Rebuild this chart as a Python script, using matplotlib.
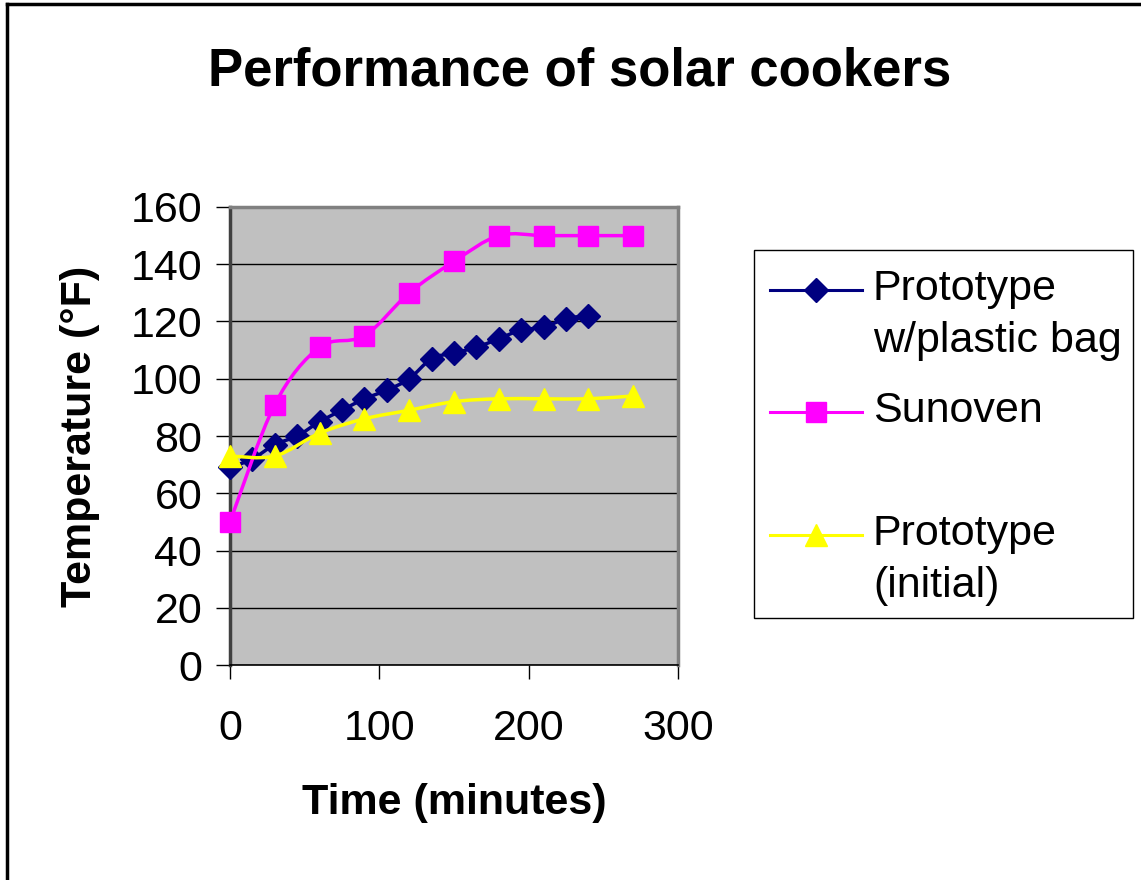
import numpy as np
import matplotlib.pyplot as plt
from matplotlib.path import Path
from matplotlib.patches import PathPatch, Rectangle
from matplotlib.lines import Line2D

plt.rcParams["font.family"] = ["Liberation Sans", "DejaVu Sans"]

# data
time_bag = [0, 15, 30, 45, 60, 75, 90, 105, 120, 135, 150, 165, 180, 195, 210, 225, 240]
temp_bag = [69, 72, 77, 80, 85, 89, 93, 96, 100, 107, 109, 111, 114, 117, 118, 121, 122]

time_sun = [0, 30, 60, 90, 120, 150, 180, 210, 240, 270]
temp_sun = [50, 91, 111, 115, 130, 141, 150, 150, 150, 150]

time_init = [0, 30, 60, 90, 120, 150, 180, 210, 240, 270]
temp_init = [73, 73, 81, 86, 89, 92, 93, 93, 93, 94]

labels = ["Prototype\nw/plastic bag", "Sunoven", "Prototype\n(initial)"]
colors = ["#000080", "#FF00FF", "#FFFF00"]
markers = ["D", "s", "^"]
msizes = [12.5, 14, 16]


def smooth_path(x, y):
    # Excel style smoothed line: cubic bezier segments through the points
    pts = np.column_stack([x, y]).astype(float)
    verts = [pts[0]]
    codes = [Path.MOVETO]
    n = len(pts)
    for i in range(n - 1):
        p0 = pts[i - 1] if i > 0 else pts[i]
        p1 = pts[i]
        p2 = pts[i + 1]
        p3 = pts[i + 2] if i + 2 < n else pts[i + 1]
        c1 = p1 + (p2 - p0) / 6.0
        c2 = p2 - (p3 - p1) / 6.0
        verts += [c1, c2, p2]
        codes += [Path.CURVE4] * 3
    return Path(verts, codes)


fig = plt.figure(figsize=(11.41, 8.8), dpi=100)
ax = fig.add_axes([230 / 1141, 1 - 665 / 880, 448 / 1141, 458 / 880])
ax.set_facecolor("#C0C0C0")

series = [(time_bag, temp_bag), (time_sun, temp_sun), (time_init, temp_init)]
for i, (xs, ys) in enumerate(series):
    ax.add_patch(PathPatch(smooth_path(xs, ys), facecolor="none",
                           edgecolor=colors[i], lw=2.5, zorder=3 + i))
    ax.plot(xs, ys, linestyle="none", marker=markers[i], ms=msizes[i],
            color=colors[i], markeredgecolor=colors[i], zorder=3 + i,
            clip_on=False)

ax.set_xlim(0, 300)
ax.set_ylim(0, 160)
ax.set_xticks([0, 100, 200, 300])
ax.set_yticks(range(0, 161, 20))
ax.yaxis.grid(True, color="black", lw=1)
ax.set_axisbelow(True)
ax.tick_params(axis="both", labelsize=31, length=10, width=1, color="black")
ax.tick_params(axis="y", pad=10)
ax.tick_params(axis="x", pad=22)

for s in ["top", "right"]:
    ax.spines[s].set_color("#808080")
    ax.spines[s].set_linewidth(2.5)
ax.spines["left"].set_color("#404040")
ax.spines["left"].set_linewidth(2.5)
ax.spines["bottom"].set_color("black")
ax.spines["bottom"].set_linewidth(1.2)

ax.set_xlabel("Time (minutes)", fontsize=31, fontweight="bold")
ax.xaxis.label.set_va("center")
ax.xaxis.set_label_coords(0.5, -0.301)
ax.set_ylabel("Temperature (\u00b0F)", fontsize=31, fontweight="bold")
ax.yaxis.label.set_va("center")
ax.yaxis.set_label_coords(-0.335, 0.5)

fig.text(580 / 1141, 1 - 71 / 880, "Performance of solar cookers",
         fontsize=38, fontweight="bold", ha="center", va="center")

# legend box drawn by hand so the marker sits on the first text line
fig.add_artist(Rectangle((754 / 1141, 1 - 618 / 880), 379 / 1141, 368 / 880,
                         transform=fig.transFigure, facecolor="white",
                         edgecolor="black", lw=1))
handle_y = [290, 412, 535]
for i in range(3):
    yy = 1 - handle_y[i] / 880
    fig.add_artist(Line2D([770 / 1141, 862 / 1141], [yy, yy], color=colors[i],
                          lw=2.2, transform=fig.transFigure))
    fig.add_artist(Line2D([816 / 1141], [yy], marker=markers[i], ms=msizes[i],
                          color=colors[i], transform=fig.transFigure))
    fig.text(873 / 1141, 1 - (handle_y[i] - 21) / 880, labels[i], fontsize=31,
             ha="left", va="top", linespacing=1.38)

# outer frame (only left and top edges are visible)
fig.add_artist(Line2D([7 / 1141, 7 / 1141], [0, 1 - 4 / 880], color="black",
                      lw=2.5, transform=fig.transFigure))
fig.add_artist(Line2D([7 / 1141, 1], [1 - 4 / 880, 1 - 4 / 880], color="black",
                      lw=2.5, transform=fig.transFigure))

fig.savefig("out.png", dpi=100)
